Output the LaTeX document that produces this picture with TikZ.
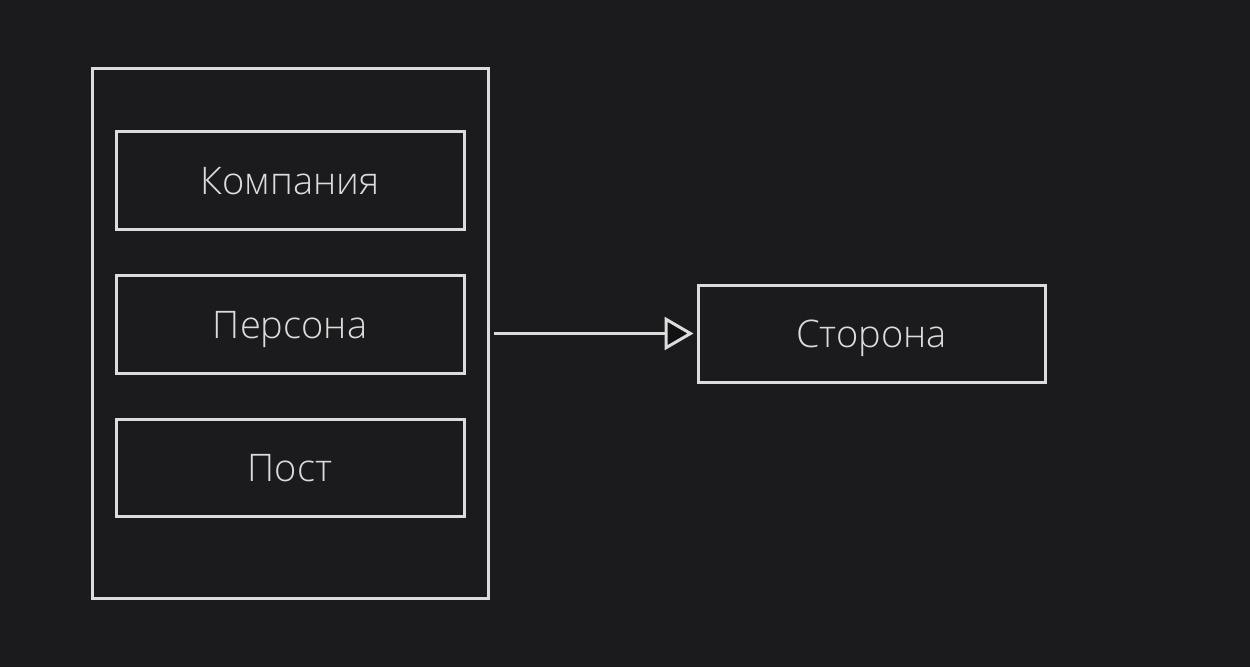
\documentclass[tikz,border=0pt]{standalone}
\usepackage{fontspec}
\setmainfont{Open Sans}[UprightFont=* Light]
\usetikzlibrary{arrows.meta}
\definecolor{bg}{HTML}{1B1B1D}
\definecolor{fg}{HTML}{DCDCDC}
\definecolor{tipfill}{HTML}{111111}
\begin{document}
\begin{tikzpicture}[x=1pt,y=-1pt,
  box/.style={draw=fg, line width=3pt, fill=bg, text=fg, font=\fontsize{38}{44}\selectfont, inner sep=0pt, text height=28pt, text depth=0pt},
  conn/.style={draw=fg, line width=3pt, -{Triangle[open, fill=tipfill, length=29pt, width=33pt, line width=3pt]}}]
\fill[bg] (0,0) rectangle (1250,667);
\useasboundingbox (0,0) rectangle (1250,667);
\node[box, minimum width=396pt, minimum height=530pt] (outer) at (290,333) {};
\node[box, minimum width=348pt, minimum height=98pt] (komp) at (290,180) {Компания};
\node[box, minimum width=348pt, minimum height=98pt] (pers) at (290,324) {Персона};
\node[box, minimum width=348pt, minimum height=97pt] (post) at (290,467.5) {Пост};
\node[box, minimum width=347pt, minimum height=97pt] (stor) at (871.5,333.5) {Сторона};
\draw[conn] ([xshift=4pt]outer.east |- stor.west) -- ([xshift=-3pt]stor.west);
\end{tikzpicture}
\end{document}
